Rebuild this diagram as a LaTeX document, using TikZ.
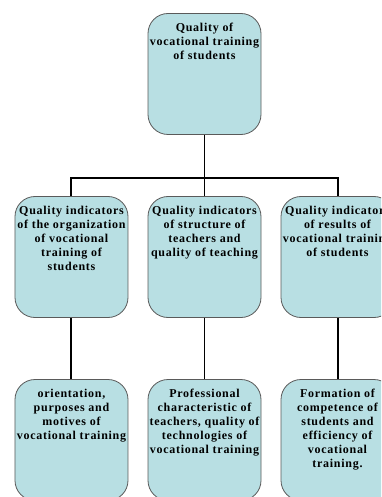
\documentclass[tikz,border=0pt]{standalone}
\usepackage{fontspec}
\setmainfont{Liberation Serif}
\newfontfamily\boxfont[LetterSpace=6]{Liberation Serif}
\usepackage{tikz}
\usetikzlibrary{shapes,positioning,trees}

\definecolor{boxfill}{HTML}{B8DFE3}
\definecolor{boxline}{HTML}{5A5A5A}

\begin{document}
\begin{tikzpicture}[level distance=183pt, sibling distance=133pt,
      qbox/.style={draw=boxline, line width=0.8pt, fill=boxfill, rounded corners=20pt,
        minimum width=113pt, minimum height=121pt, inner sep=0pt,
        font=\boxfont\fontsize{12}{14}\selectfont\bfseries,
        execute at begin node={\hbox to 113pt\bgroup\hss\begin{minipage}[t][102pt][t]{124pt}\centering},
        execute at end node={\end{minipage}\hss\egroup}},
      every node/.style={qbox},
      edge from parent/.style={draw, line width=2pt},
      level 1/.style={edge from parent path={([yshift=-43pt]\tikzparentnode.south) -| (\tikzchildnode.north)}},
      level 2/.style={edge from parent path={(\tikzparentnode.south) -- (\tikzchildnode.north)}}]
    \clip (-204.5pt,74pt) rectangle (176.5pt,-423pt);
    \node (quality) {Quality of\\ vocational training\\ of students}
      child {node (organization) {Quality indicators\\ of the organization\\ of vocational\\ training of\\ students}
        child {node (orientation) {orientation,\\ purposes and\\ motives of\\ vocational training}}}
      child {node (teachers) {Quality indicators\\ of structure of\\ teachers and\\ quality of teaching}
        child {node (professional) {Professional\\ characteristic of\\ teachers, quality of\\ technologies of\\ vocational training}
          edge from parent[line width=1.4pt]}
        edge from parent[line width=1.4pt,
          edge from parent path={(\tikzparentnode.south) -- (\tikzchildnode.north)}]}
      child {node (results) {Quality indicators\\ of results of\\ vocational training\\ of students}
        child {node (competence) {Formation of\\ competence of\\ students and\\ efficiency of\\ vocational\\ training.}}}
      ;
\end{tikzpicture}
\end{document}
